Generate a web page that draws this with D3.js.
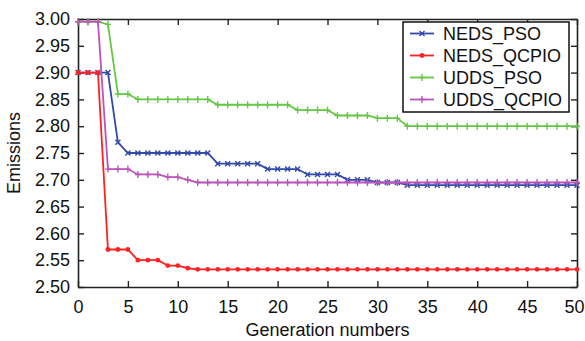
<!DOCTYPE html>
<html>
<head>
<meta charset="utf-8">
<script src="https://cdn.jsdelivr.net/npm/d3@7"></script>
<style>
  body { margin: 0; background: #fff; }
  text { font-family: "Liberation Sans", Arial, sans-serif; fill: #111; }
  .axisTitle { font-size: 18px; }
  .legend text { font-size: 18px; }
</style>
</head>
<body>
<div id="chart"></div>
<script>
var generations = d3.range(0, 51);

var nedsPso = [2.90, 2.90, 2.90, 2.90, 2.77,
  2.75, 2.75, 2.75, 2.75, 2.75, 2.75, 2.75, 2.75, 2.75,
  2.73, 2.73, 2.73, 2.73, 2.73,
  2.72, 2.72, 2.72, 2.72,
  2.71, 2.71, 2.71, 2.71,
  2.70, 2.70, 2.70,
  2.695, 2.695, 2.695,
  2.69, 2.69, 2.69, 2.69, 2.69, 2.69, 2.69, 2.69, 2.69, 2.69, 2.69, 2.69, 2.69, 2.69, 2.69, 2.69, 2.69, 2.69];

var nedsQcpio = [2.90, 2.90, 2.90,
  2.57, 2.57, 2.57,
  2.55, 2.55, 2.55,
  2.54, 2.54,
  2.535,
  2.533, 2.533, 2.533, 2.533, 2.533, 2.533, 2.533, 2.533, 2.533, 2.533, 2.533, 2.533, 2.533,
  2.533, 2.533, 2.533, 2.533, 2.533, 2.533, 2.533, 2.533, 2.533, 2.533, 2.533, 2.533, 2.533,
  2.533, 2.533, 2.533, 2.533, 2.533, 2.533, 2.533, 2.533, 2.533, 2.533, 2.533, 2.533, 2.533];

var uddsPso = [2.995, 2.995, 2.995, 2.99,
  2.86, 2.86,
  2.85, 2.85, 2.85, 2.85, 2.85, 2.85, 2.85, 2.85,
  2.84, 2.84, 2.84, 2.84, 2.84, 2.84, 2.84, 2.84,
  2.83, 2.83, 2.83, 2.83,
  2.82, 2.82, 2.82, 2.82,
  2.815, 2.815, 2.815,
  2.80, 2.80, 2.80, 2.80, 2.80, 2.80, 2.80, 2.80, 2.80, 2.80, 2.80, 2.80, 2.80, 2.80, 2.80, 2.80, 2.80, 2.80];

var uddsQcpio = [2.995, 2.995, 2.995,
  2.72, 2.72, 2.72,
  2.71, 2.71, 2.71,
  2.705, 2.705,
  2.70,
  2.695, 2.695, 2.695, 2.695, 2.695, 2.695, 2.695, 2.695, 2.695, 2.695, 2.695, 2.695, 2.695,
  2.695, 2.695, 2.695, 2.695, 2.695, 2.695, 2.695, 2.695, 2.695, 2.695, 2.695, 2.695, 2.695,
  2.695, 2.695, 2.695, 2.695, 2.695, 2.695, 2.695, 2.695, 2.695, 2.695, 2.695, 2.695, 2.695];

var seriesNames = ["NEDS_PSO", "NEDS_QCPIO", "UDDS_PSO", "UDDS_QCPIO"];
var xTicks = [0, 5, 10, 15, 20, 25, 30, 35, 40, 45, 50];
var yTicks = [2.50, 2.55, 2.60, 2.65, 2.70, 2.75, 2.80, 2.85, 2.90, 2.95, 3.00];

var series = [
  {name: seriesNames[0], values: nedsPso, color: "#3248aa", marker: "x"},
  {name: seriesNames[1], values: nedsQcpio, color: "#ff2222", marker: "dot"},
  {name: seriesNames[2], values: uddsPso, color: "#66c844", marker: "plus"},
  {name: seriesNames[3], values: uddsQcpio, color: "#bb55bb", marker: "plus"}
];

var W = 585, H = 341;
var margin = {top: 19, right: 8, bottom: 54, left: 78};
var width = W - margin.left - margin.right;
var height = H - margin.top - margin.bottom;

var xScale = d3.scaleLinear().domain([0, 50]).range([0, width]);
var yScale = d3.scaleLinear().domain([2.5, 3.0]).range([height, 0]);

var svg = d3.select("#chart").append("svg")
  .attr("width", W).attr("height", H);

var plot = svg.append("g")
  .attr("transform", "translate(" + margin.left + "," + margin.top + ")");

// axes with inward ticks (box all round)
var axisB = plot.append("g").attr("transform", "translate(0," + height + ")")
  .call(d3.axisBottom(xScale).tickValues(xTicks).tickSizeInner(-6).tickSizeOuter(0).tickPadding(13).tickFormat(d3.format("d")));
var axisL = plot.append("g")
  .call(d3.axisLeft(yScale).tickValues(yTicks).tickSizeInner(-6).tickSizeOuter(0).tickPadding(8).tickFormat(d3.format(".2f")));
var axisT = plot.append("g")
  .call(d3.axisTop(xScale).tickValues(xTicks).tickSizeInner(-6).tickSizeOuter(0).tickFormat(""));
var axisR = plot.append("g").attr("transform", "translate(" + width + ",0)")
  .call(d3.axisRight(yScale).tickValues(yTicks).tickSizeInner(-6).tickSizeOuter(0).tickFormat(""));

[axisB, axisL, axisT, axisR].forEach(function(a) {
  a.selectAll("path.domain").attr("stroke", "#222").attr("stroke-width", 1.6);
  a.selectAll(".tick line").attr("stroke", "#222").attr("stroke-width", 1.4);
  a.selectAll(".tick text").attr("fill", "#111")
    .style("font-family", "'Liberation Sans', Arial, sans-serif").style("font-size", "18px");
});
// keep the last x label inside the page
axisB.selectAll(".tick text").filter(function(d) { return d === 50; }).attr("dx", -3);

var line = d3.line()
  .x(function(d, i) { return xScale(generations[i]); })
  .y(function(d) { return yScale(d); });

function drawMarkers(g, s, pts) {
  var m = g.selectAll("g.mk").data(pts).enter().append("g").attr("class", "mk")
    .attr("transform", function(p) { return "translate(" + p[0] + "," + p[1] + ")"; });
  if (s.marker === "dot") {
    m.append("circle").attr("r", 2.4).attr("fill", s.color);
  } else if (s.marker === "x") {
    m.append("path").attr("d", "M-2.5,-2.5L2.5,2.5M-2.5,2.5L2.5,-2.5")
      .attr("stroke", s.color).attr("stroke-width", 1.4);
  } else {
    m.append("path").attr("d", "M-3,0L3,0M0,-3.5L0,3.5")
      .attr("stroke", s.color).attr("stroke-width", 1.4);
  }
}

series.forEach(function(s) {
  var g = plot.append("g");
  g.append("path")
    .datum(s.values)
    .attr("fill", "none")
    .attr("stroke", s.color)
    .attr("stroke-width", 1.8)
    .attr("d", line);
  drawMarkers(g, s, s.values.map(function(v, i) { return [xScale(generations[i]), yScale(v)]; }));
});

// axis titles
svg.append("text").attr("class", "axisTitle")
  .attr("x", margin.left + width / 2).attr("y", 336)
  .attr("text-anchor", "middle")
  .text("Generation numbers");

svg.append("text").attr("class", "axisTitle")
  .attr("transform", "translate(20," + (margin.top + height / 2) + ") rotate(-90)")
  .attr("text-anchor", "middle")
  .text("Emissions");

// legend
var legend = svg.append("g").attr("class", "legend")
  .attr("transform", "translate(403,22)");
legend.append("rect")
  .attr("width", 166).attr("height", 90)
  .attr("fill", "#fff").attr("stroke", "#111").attr("stroke-width", 1.5);

series.forEach(function(s, i) {
  var row = legend.append("g").attr("transform", "translate(0," + (11.5 + i * 22) + ")");
  row.append("line").attr("x1", 7).attr("x2", 31).attr("y1", 0).attr("y2", 0)
    .attr("stroke", s.color).attr("stroke-width", 1.8);
  drawMarkers(row, s, [[19, 0]]);
  row.append("text").attr("x", 40).attr("y", 6.5).text(s.name);
});
</script>
</body>
</html>
